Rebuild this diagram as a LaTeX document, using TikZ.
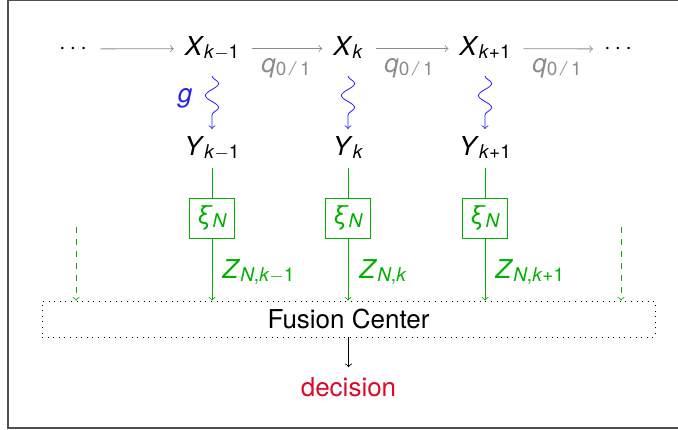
\documentclass[tikz,border=0pt]{standalone}
\usepackage{fontspec}
\setmainfont{TeX Gyre Heros}
\usetikzlibrary{decorations.pathmorphing}
\definecolor{chaingray}{HTML}{8C8C8C}
\definecolor{obsblue}{HTML}{1E1EF5}
\definecolor{quantgreen}{HTML}{00B000}
\definecolor{decred}{HTML}{DC0A28}
\definecolor{framegray}{HTML}{505050}
\newcommand{\sbs}[1]{\raisebox{-1.5pt}{\fontsize{9.5}{10}\selectfont #1}}
\newcommand{\mn}{\ensuremath{-}}

\begin{document}
\begin{tikzpicture}[
		x=0.5pt, y=-0.5pt,
		every node/.style={font=\fontsize{13}{15}\selectfont},
		state/.style={text height=9.5pt, text depth=3pt, inner sep=3.3pt},
		chain/.style={->, color=chaingray, shorten <=3pt, shorten >=2pt},
		emit/.style={->, color=obsblue, decorate, decoration={snake, amplitude=3.3pt, segment length=12pt, post length=5pt}},
		qlab/.style={text=chaingray},
		quant/.style={draw=quantgreen, text=quantgreen, minimum width=22.5pt, minimum height=20pt, inner sep=1pt},
		send/.style={->, color=quantgreen},
		spare/.style={->, color=quantgreen, dashed},
		zlab/.style={text=quantgreen, inner sep=0pt, anchor=base west},
		fusion/.style={draw, dash pattern=on 0.5pt off 2.3pt, minimum width=306.5pt, minimum height=18pt}
	]
	\useasboundingbox (0,0) rectangle (678,429);
	\draw[framegray, line width=0.6pt] (682,0.6) -- (8,0.6) -- (8,428) -- (682,428);

	\node (dotsl) at (73,49) {$\cdots$};
	\node[state] (xkm) at (212,48.5) {\textit{X}\sbs{\textit{k}\mn1}};
	\node[state] (xk) at (348,48.5) {\textit{X}\sbs{\textit{k}}};
	\node[state] (xkp) at (485,48.5) {\textit{X}\sbs{\textit{k}+1}};
	\node (dotsr) at (618,49) {$\cdots$};

	\draw[chain] (dotsl) -- (xkm);
	\draw[chain] (xkm) -- (xk);
	\draw[chain] (xk) -- (xkp);
	\draw[chain] (xkp) -- (dotsr);

	\node[qlab] (q1) at (286,68) {\textit{q}\sbs{0\,\textit{/}\,1}};
	\node[qlab] (q2) at (409,68) {\textit{q}\sbs{0\,\textit{/}\,1}};
	\node[qlab] (q3) at (557,68) {\textit{q}\sbs{0\,\textit{/}\,1}};

	\node[state] (ykm) at (212,148.5) {\textit{Y}\sbs{\textit{k}\mn1}};
	\node[state] (yk) at (348,148.5) {\textit{Y}\sbs{\textit{k}}};
	\node[state] (ykp) at (485,148.5) {\textit{Y}\sbs{\textit{k}+1}};

	\draw[emit] ([yshift=-4pt]xkm.south) -- (ykm.north);
	\draw[emit] ([yshift=-4pt]xk.south) -- (yk.north);
	\draw[emit] ([yshift=-4pt]xkp.south) -- (ykp.north);
	\node[text=obsblue] (g) at (185,98) {\textit{g}};

	\node[quant] (xikm) at (212,218) {\textit{ξ}\sbs{\textit{N}}};
	\node[quant] (xik) at (348,218) {\textit{ξ}\sbs{\textit{N}}};
	\node[quant] (xikp) at (485,218) {\textit{ξ}\sbs{\textit{N}}};

	\draw[quantgreen] (ykm) -- (xikm);
	\draw[quantgreen] (yk) -- (xik);
	\draw[quantgreen] (ykp) -- (xikp);

	\node[fusion] (fc) at (348.5,319) {Fusion Center};

	\draw[send] (xikm) -- (xikm |- fc.north);
	\draw[send] (xik) -- (xik |- fc.north);
	\draw[send] (xikp) -- (xikp |- fc.north);
	\node[zlab] (zkm) at (222,278) {\textit{Z}\sbs{\textit{N},\textit{k}\mn1}};
	\node[zlab] (zk) at (359,278) {\textit{Z}\sbs{\textit{N},\textit{k}}};
	\node[zlab] (zkp) at (495,278) {\textit{Z}\sbs{\textit{N},\textit{k}+1}};

	\coordinate (inl) at (76,227);
	\coordinate (inr) at (621,227);
	\draw[spare] (inl) -- (inl |- fc.north);
	\draw[spare] (inr) -- (inr |- fc.north);

	\node[text=decred] (dec) at (348.5,387) {decision};
	\draw[->, shorten >=1.5pt] (fc) -- (dec);
\end{tikzpicture}
\end{document}
